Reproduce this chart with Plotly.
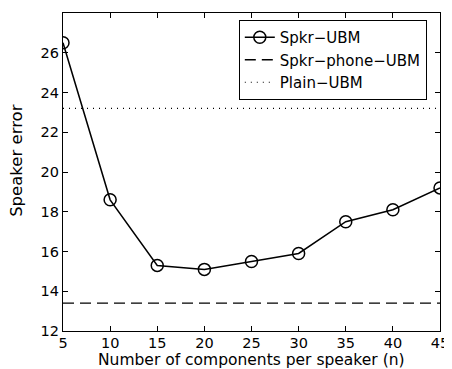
import plotly.graph_objects as go

n_components = [5, 10, 15, 20, 25, 30, 35, 40, 45]
spkr_ubm = [26.5, 18.6, 15.3, 15.1, 15.5, 15.9, 17.5, 18.1, 19.2]
spkr_phone_ubm = 13.4
plain_ubm = 23.2
x_ticks = [5, 10, 15, 20, 25, 30, 35, 40, 45]
y_ticks = [12, 14, 16, 18, 20, 22, 24, 26, 28]

FONT = "DejaVu Sans, Liberation Sans, Arial"

fig = go.Figure()
fig.add_trace(go.Scatter(x=n_components, y=spkr_ubm, mode="lines+markers", name="Spkr\u2212UBM",
                         line=dict(color="black", width=1.5),
                         marker=dict(symbol="circle-open", size=12, color="black", line=dict(width=1.5))))
fig.add_trace(go.Scatter(x=[n_components[0], n_components[-1]], y=[spkr_phone_ubm] * 2, mode="lines",
                         name="Spkr\u2212phone\u2212UBM", line=dict(color="black", width=1.3, dash="11px,6px")))
fig.add_trace(go.Scatter(x=[n_components[0], n_components[-1]], y=[plain_ubm] * 2, mode="lines",
                         name="Plain\u2212UBM", line=dict(color="black", width=1.2, dash="1px,5px")))

axis_common = dict(showgrid=False, zeroline=False, showline=True, linecolor="black", linewidth=1.3,
                   mirror="ticks", ticks="inside", ticklen=5, tickcolor="black", automargin=False,
                   tickfont=dict(family=FONT, size=14.5, color="black"))
fig.update_xaxes(range=[5, 45], tickvals=x_ticks, ticklabelstandoff=-2, **axis_common)
fig.update_yaxes(range=[12, 28], tickvals=y_ticks, **axis_common)

fig.add_annotation(text="Number of components per speaker (n)", xref="paper", yref="paper",
                   x=0.5, y=0, xanchor="center", yanchor="middle", yshift=-29, showarrow=False,
                   font=dict(family=FONT, size=15.5, color="black"))
fig.add_annotation(text="Speaker error", xref="paper", yref="paper", textangle=-90,
                   x=0, y=0.535, xanchor="center", yanchor="middle", xshift=-46, showarrow=False,
                   font=dict(family=FONT, size=16.5, color="black"))

fig.update_layout(width=444, height=361, margin=dict(l=55, r=12, t=5, b=38),
                  plot_bgcolor="white", paper_bgcolor="white",
                  legend=dict(x=0.965, y=0.978, xanchor="right", yanchor="top",
                              bordercolor="black", borderwidth=1, bgcolor="white",
                              font=dict(family=FONT, size=15, color="black"),
                              tracegroupgap=0, itemwidth=30),
                  showlegend=True)
fig.write_html("out.html")
